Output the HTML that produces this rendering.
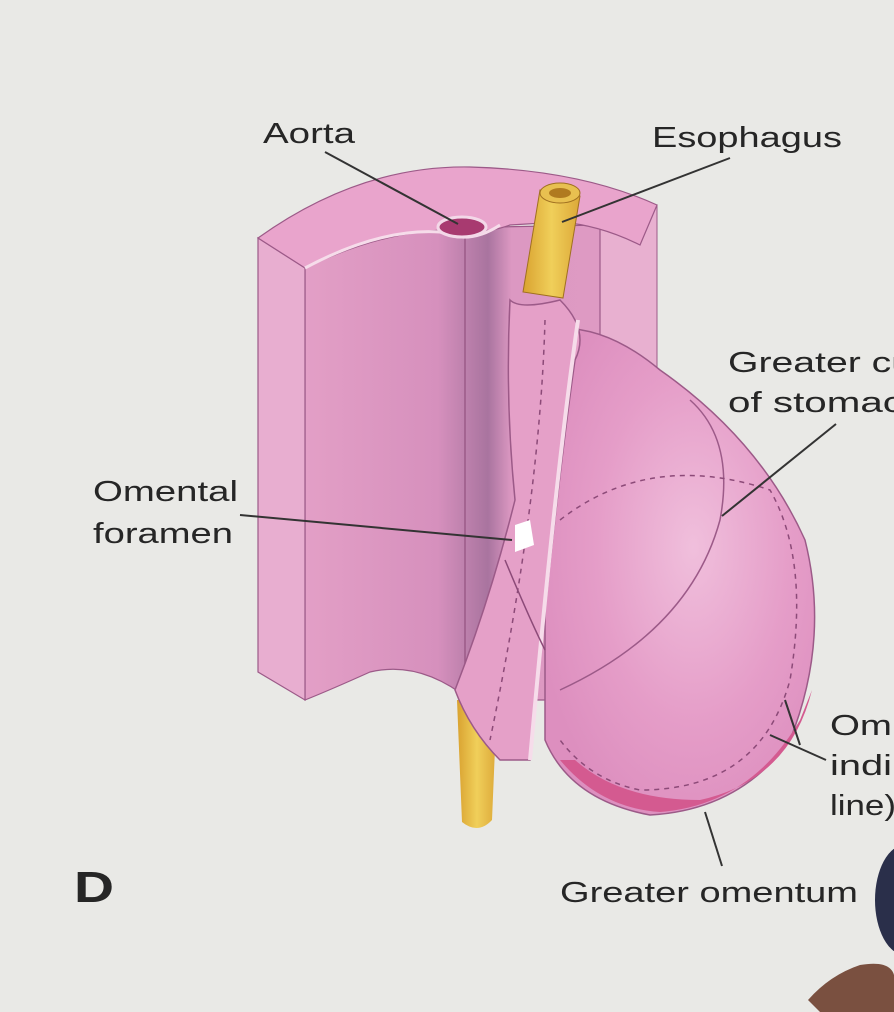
<!DOCTYPE html>
<html><head><style>
html,body{margin:0;padding:0;background:#e9e9e6;}
svg{display:block;}
text{font-family:"Liberation Sans",sans-serif;fill:#262626;}
</style></head><body>
<svg width="894" height="1012" viewBox="0 0 894 1012">
<defs>
<linearGradient id="inner" x1="0" x2="1" y1="0" y2="0">
<stop offset="0" stop-color="#e39fc6"/><stop offset="0.45" stop-color="#d690bd"/>
<stop offset="0.62" stop-color="#a9749f"/><stop offset="0.7" stop-color="#dc98c2"/><stop offset="1" stop-color="#de9ac3"/>
</linearGradient>
<radialGradient id="stom" cx="0.55" cy="0.45" r="0.6">
<stop offset="0" stop-color="#f0bfdc"/><stop offset="0.6" stop-color="#e59dc8"/><stop offset="1" stop-color="#dd8fbf"/>
</radialGradient>
<linearGradient id="eso" x1="0" x2="1"><stop offset="0" stop-color="#d9a230"/><stop offset="0.5" stop-color="#f0cf5a"/><stop offset="1" stop-color="#dca838"/></linearGradient>
</defs>
<rect width="894" height="1012" fill="#e9e9e6"/>
<path d="M600,215 L657,205 L657,380 L600,380 Z" fill="#e8b0d0" stroke="#9c5a88" stroke-width="1"/>
<path d="M305,268 Q380,225 445,228 L600,225 L600,700 L470,700 Q420,660 370,672 Q330,690 305,700 Z" fill="url(#inner)" stroke="#9c5a88" stroke-width="1.2"/>
<line x1="465" y1="232" x2="465" y2="690" stroke="#9c5a88" stroke-width="1.5"/>
<path d="M258,238 L305,268 L305,700 L258,672 Z" fill="#e8aed0" stroke="#9c5a88" stroke-width="1.2"/>
<path d="M258,238 Q360,165 470,167 Q580,170 657,205 L640,245 Q600,225 560,222 L510,225 Q490,232 482,230 Q460,240 445,230 Q380,232 305,268 Z" fill="#e9a4cc" stroke="#9c5a88" stroke-width="1.2"/>
<path d="M305,268 Q380,228 440,232 Q470,245 500,225" fill="none" stroke="#f6dcea" stroke-width="3"/>
<ellipse cx="462" cy="227" rx="24" ry="10" fill="#a83a70" stroke="#f3d8e8" stroke-width="3"/>
<path d="M540,190 L580,196 L563,298 L523,292 Z" fill="url(#eso)" stroke="#a07020" stroke-width="1"/>
<ellipse cx="560" cy="193" rx="20" ry="10" fill="#e8c050" stroke="#a07020" stroke-width="1"/>
<ellipse cx="560" cy="193" rx="11" ry="5" fill="#b07a20"/>
<path d="M457,700 L497,700 L492,820 Q478,835 462,822 Z" fill="url(#eso)"/>
<path d="M545,330 Q600,320 660,370 Q760,440 805,540 Q830,640 790,740 Q740,810 650,815 Q570,800 545,740 Z" fill="url(#stom)" stroke="#9c5a88" stroke-width="1.5"/>
<path d="M560,760 Q600,808 660,812 Q750,805 800,720 L812,690 Q790,780 700,800 Q620,800 575,760 Z" fill="#d45a90"/>
<path d="M560,690 Q690,630 720,520 Q735,440 690,400" fill="none" stroke="#9c5a88" stroke-width="1.5"/>
<path d="M560,520 Q650,450 770,490 Q810,560 790,680 Q760,790 640,790 Q590,780 560,740" fill="none" stroke="#8c4a78" stroke-width="1.5" stroke-dasharray="5,5"/>
<path d="M510,300 Q520,310 560,300 Q590,330 575,360 Q555,500 530,760 L500,760 Q470,730 455,690 Q490,600 515,500 Q505,400 510,300 Z" fill="#e5a0c8" stroke="#9c5a88" stroke-width="1.5"/>
<path d="M578,320 Q555,480 530,760" fill="none" stroke="#f6dcea" stroke-width="4"/>
<path d="M545,320 Q540,500 490,740" fill="none" stroke="#8c4a78" stroke-width="1.5" stroke-dasharray="5,5"/>
<path d="M505,560 Q530,620 545,650" fill="none" stroke="#8c4a78" stroke-width="1.5"/>
<path d="M515,525 L530,520 L534,545 L515,552 Z" fill="#ffffff"/>
<g stroke="#333" stroke-width="2" fill="none">
<line x1="325" y1="152" x2="458" y2="224"/>
<line x1="730" y1="158" x2="562" y2="222"/>
<line x1="836" y1="424" x2="722" y2="516"/>
<line x1="240" y1="515" x2="512" y2="540"/>
<line x1="826" y1="760" x2="770" y2="735"/>
<line x1="800" y1="745" x2="785" y2="700"/>
<line x1="722" y1="866" x2="705" y2="812"/>
</g>
<g font-size="29" lengthAdjust="spacingAndGlyphs">
<text x="263" y="143" textLength="92" lengthAdjust="spacingAndGlyphs">Aorta</text>
<text x="652" y="147" textLength="190" lengthAdjust="spacingAndGlyphs">Esophagus</text>
<text x="728" y="372" textLength="185" lengthAdjust="spacingAndGlyphs">Greater cu</text>
<text x="728" y="412" textLength="175" lengthAdjust="spacingAndGlyphs">of stomac</text>
<text x="93" y="501" textLength="145" lengthAdjust="spacingAndGlyphs">Omental</text>
<text x="93" y="543" textLength="140" lengthAdjust="spacingAndGlyphs">foramen</text>
<text x="830" y="735" textLength="62" lengthAdjust="spacingAndGlyphs">Om</text>
<text x="830" y="775" textLength="62" lengthAdjust="spacingAndGlyphs">indi</text>
<text x="830" y="815" textLength="66" lengthAdjust="spacingAndGlyphs">line)</text>
<text x="560" y="902" textLength="298" lengthAdjust="spacingAndGlyphs">Greater omentum</text>
</g>
<text x="74" y="902" font-size="44" font-weight="bold" textLength="40" lengthAdjust="spacingAndGlyphs">D</text>
<ellipse cx="905" cy="900" rx="30" ry="55" fill="#2a2f4a"/>
<path d="M808,1000 Q830,975 860,965 Q890,960 894,975 L894,1012 L820,1012 Z" fill="#7a5040"/>
</svg>
</body></html>
